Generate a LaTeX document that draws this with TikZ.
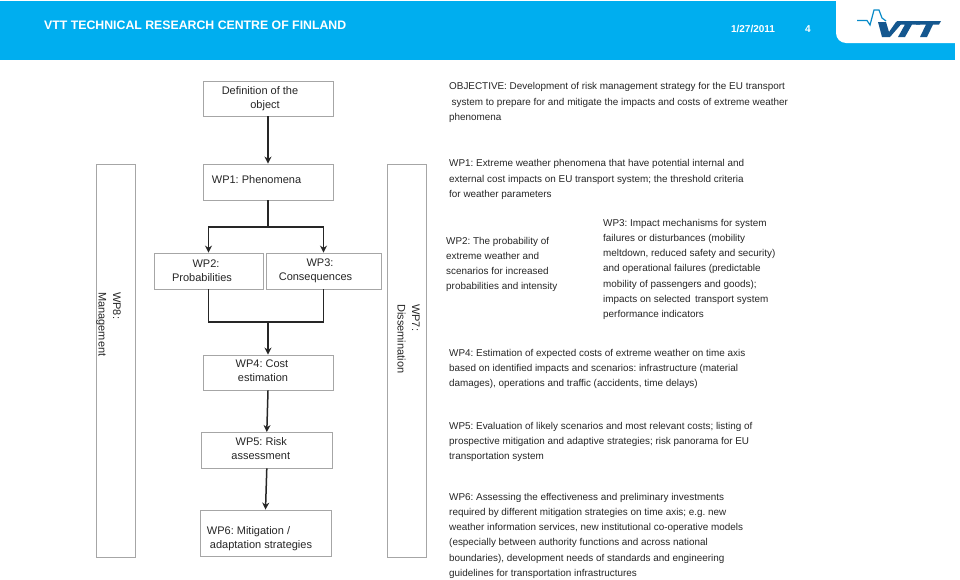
\documentclass[tikz,border=0pt]{standalone}
\usepackage{fontspec}
\setmainfont{Liberation Sans}
\usetikzlibrary{arrows.meta}
\definecolor{vttblue}{HTML}{00AEEF}
\definecolor{vttdark}{HTML}{14578F}
\definecolor{boxgray}{HTML}{A6A6A6}
\tikzset{
  wpbox/.style={draw=boxgray,line width=0.9pt,fill=white,inner sep=0pt,align=center,font=\fontsize{11}{14}\selectfont,text=black!85},
  sidetext/.style={rotate=-90,align=left,inner sep=0pt,font=\fontsize{11}{14.5}\selectfont,text=black!85},
  desc/.style={anchor=north west,align=left,inner sep=0pt,font=\fontsize{9.9}{15.2}\selectfont,text=black!85},
  flow/.style={line width=1.5pt,draw=black!85,-{Stealth[length=7pt,width=7pt]}},
  flowline/.style={line width=1.5pt,draw=black!85},
}
\begin{document}
\frenchspacing
\begin{tikzpicture}[x=1pt,y=-1pt]
\useasboundingbox (0,0) rectangle (960,579);
%
\fill[vttblue] (0,1) rectangle (955,60);
\fill[white,rounded corners=10pt] (836,-10) -- (836,43) -- (965,43) -- (965,-10) -- cycle;
\fill[white] (955,0) rectangle (960,60);
\fill[white] (830,0) rectangle (960,1);
\node[anchor=west,inner sep=0pt,text=white,font=\bfseries\fontsize{12.3}{15}\selectfont] (title) at (44,25) {VTT TECHNICAL RESEARCH CENTRE OF FINLAND};
\node[inner sep=0pt,text=white,font=\bfseries\fontsize{10}{12}\selectfont] (date) at (753,29) {1/27/2011};
\node[inner sep=0pt,text=white,font=\bfseries\fontsize{10}{12}\selectfont] (page) at (808,29) {4};
%
\draw[vttblue!60!vttdark,line width=1.2pt] (857,20.5) -- (867,20.5) -- (870,25) -- (874,10) -- (879,10) -- (882,18) -- (886,21);
\fill[vttdark] (878,22) -- (886,22) -- (889,32) -- (896,22) -- (903,22) -- (890,37) -- (882,37) -- cycle;
\fill[vttdark] (897,21) -- (921,21) -- (920,24.5) -- (912,24.5) -- (905,37) -- (898,37) -- (905,24.5) -- (895,24.5) -- cycle;
\fill[vttdark] (918,21) -- (941,21) -- (939,24.5) -- (933,24.5) -- (927,37) -- (920,37) -- (926,24.5) -- (916,24.5) -- cycle;
%
\node[wpbox,minimum width=130pt,minimum height=35pt] (def) at (268,98.5) {Definition of the\hspace*{16pt}\\object\hspace*{6pt}};
\node[wpbox,minimum width=130pt,minimum height=36pt] (wp1) at (268,182) {\raisebox{4pt}{WP1: Phenomena}\hspace*{23pt}};
\node[wpbox,minimum width=109pt,minimum height=36pt] (wp2) at (208.5,271) {WP2:\hspace*{5pt}\\Probabilities\hspace*{13pt}};
\node[wpbox,minimum width=115pt,minimum height=36pt] (wp3) at (323.5,271) {WP3:\hspace*{7pt}\\Consequences\hspace*{16pt}};
\node[wpbox,minimum width=130pt,minimum height=35pt] (wp4) at (268,372.5) {WP4: Cost\hspace*{12pt}\\\rule[-3.2pt]{0pt}{3.2pt}estimation\hspace*{10pt}};
\node[wpbox,minimum width=130.5pt,minimum height=35.5pt] (wp5) at (266.8,450.2) {WP5: Risk\hspace*{11pt}\\\rule[-3.2pt]{0pt}{3.2pt}assessment\hspace*{12pt}};
\node[wpbox,minimum width=131pt,minimum height=46pt] (wp6) at (265.5,533) {\rule{0pt}{19pt}WP6: Mitigation /\hspace*{34pt}\\adaptation strategies\hspace*{9pt}};
\node[wpbox,minimum width=39pt,minimum height=393pt] (wp8) at (115.5,360.5) {};
\node[wpbox,minimum width=39pt,minimum height=393pt] (wp7) at (406.5,360.5) {};
\node[sidetext,anchor=north west] (wp8text) at (121,292) {WP8:\\Management};
\node[sidetext,anchor=north west] (wp7text) at (420,304) {WP7:\\Dissemination};
%
\coordinate (split) at (268,227);
\coordinate (join) at (268,322);
\draw[flow] (def.south) -- (wp1.north);
\draw[flowline] (wp1.south) -- (split);
\draw[flow] (split) -| (wp2.north);
\draw[flow] (split) -| (wp3.north);
\draw[flowline] (wp2.south) |- (join);
\draw[flowline] (wp3.south) |- (join);
\draw[flow] (join) -- (wp4.north);
\draw[flow] (wp4.south) -- (wp5.north);
\draw[flow] (wp5.south) -- (wp6.north);
%
\node[desc] (objective) at (449,82.5) {OBJECTIVE: Development of risk management strategy for the EU transport\\
\hspace*{2.5pt}system to prepare for and mitigate the impacts and costs of extreme weather\\
phenomena};
\node[desc] (dwp1) at (449,159.5) {WP1: Extreme weather phenomena that have potential internal and\\
external cost impacts on EU transport system; the threshold criteria\\
for weather parameters};
\node[desc] (dwp2) at (446,237) {WP2: The probability of\\
extreme weather and\\
scenarios for increased\\
probabilities and intensity};
\node[desc] (dwp3) at (603,219) {WP3: Impact mechanisms for system\\
failures or disturbances (mobility\\
meltdown, reduced safety and security)\\
and operational failures (predictable\\
mobility of passengers and goods);\\
impacts on selected\, transport system\\
performance indicators};
\node[desc] (dwp4) at (449,349) {WP4: Estimation of expected costs of extreme weather on time axis\\
based on identified impacts and scenarios: infrastructure (material\\
damages), operations and traffic (accidents, time delays)};
\node[desc] (dwp5) at (449,422) {WP5: Evaluation of likely scenarios and most relevant costs; listing of\\
prospective mitigation and adaptive strategies; risk panorama for EU\\
transportation system};
\node[desc] (dwp6) at (449,493) {WP6: Assessing the effectiveness and preliminary investments\\
required by different mitigation strategies on time axis; e.g. new\\
weather information services, new institutional co-operative models\\
(especially between authority functions and across national\\
boundaries), development needs of standards and engineering\\
guidelines for transportation infrastructures};
%
\end{tikzpicture}
\end{document}
